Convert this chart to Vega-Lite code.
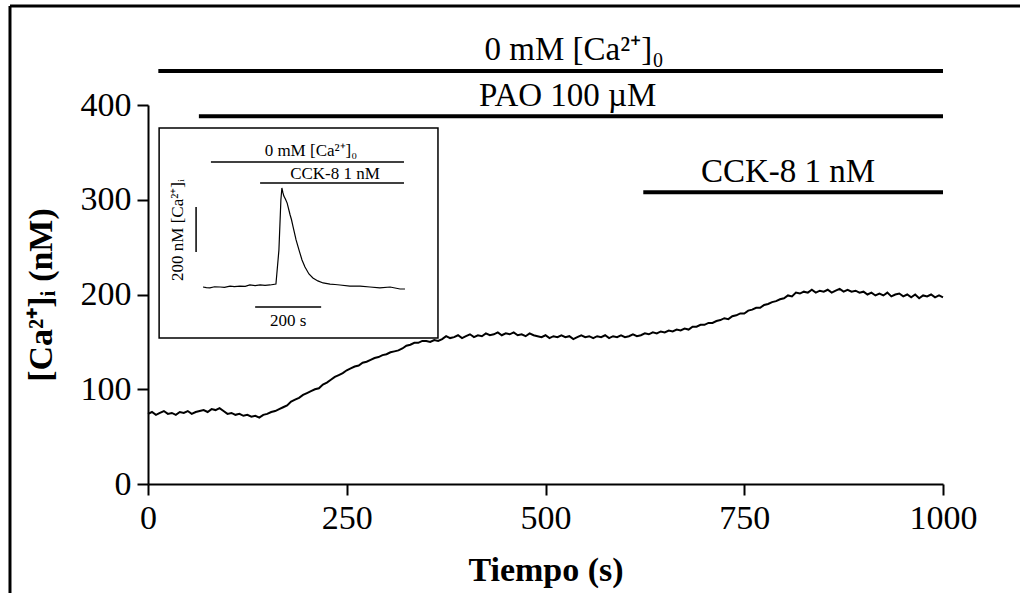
{
  "$schema": "https://vega.github.io/schema/vega-lite/v6.json",
  "width": 795,
  "height": 379,
  "autosize": {"type": "none"},
  "padding": {"left": 148, "top": 105, "right": 77, "bottom": 109},
  "background": "white",
  "config": {
    "view": {"stroke": null},
    "axis": {
      "labelFont": "Liberation Serif", "labelFontSize": 34, "labelColor": "black",
      "titleFont": "Liberation Serif", "titleFontSize": 34, "titleFontWeight": "bold", "titleColor": "black",
      "domainColor": "black", "domainWidth": 2, "tickColor": "black", "tickWidth": 2, "tickSize": 11,
      "grid": false, "labelPadding": 6, "labelFlush": false, "labelOverlap": false
    }
  },
  "datasets": {
    "one": [{}],
    "trace": [
      {"t":0,"ca":74},{"t":5,"ca":76},{"t":10,"ca":73},{"t":15,"ca":75},{"t":20,"ca":77},{"t":25,"ca":74},{"t":30,"ca":75},{"t":35,"ca":73},{"t":40,"ca":76},{"t":45,"ca":75},
      {"t":50,"ca":77},{"t":55,"ca":74},{"t":60,"ca":76},{"t":65,"ca":77},{"t":70,"ca":78},{"t":75,"ca":76},{"t":80,"ca":79},{"t":85,"ca":78},{"t":90,"ca":80},{"t":95,"ca":77},
      {"t":100,"ca":74},{"t":105,"ca":75},{"t":110,"ca":73},{"t":115,"ca":74},{"t":120,"ca":72},{"t":125,"ca":73},{"t":130,"ca":71},{"t":135,"ca":72},{"t":140,"ca":70},{"t":145,"ca":73},
      {"t":150,"ca":74},{"t":155,"ca":76},{"t":160,"ca":77},{"t":165,"ca":79},{"t":170,"ca":81},{"t":175,"ca":83},{"t":180,"ca":87},{"t":185,"ca":89},{"t":190,"ca":91},{"t":195,"ca":94},
      {"t":200,"ca":96},{"t":205,"ca":98},{"t":210,"ca":100},{"t":215,"ca":101},{"t":220,"ca":105},{"t":225,"ca":107},{"t":230,"ca":110},{"t":235,"ca":113},{"t":240,"ca":115},{"t":245,"ca":117},
      {"t":250,"ca":120},{"t":255,"ca":122},{"t":260,"ca":124},{"t":265,"ca":125},{"t":270,"ca":128},{"t":275,"ca":129},{"t":280,"ca":131},{"t":285,"ca":133},{"t":290,"ca":134},{"t":295,"ca":136},
      {"t":300,"ca":137},{"t":305,"ca":139},{"t":310,"ca":140},{"t":315,"ca":141},{"t":320,"ca":143},{"t":325,"ca":146},{"t":330,"ca":147},{"t":335,"ca":149},{"t":340,"ca":149},{"t":345,"ca":151},
      {"t":350,"ca":151},{"t":355,"ca":150},{"t":360,"ca":152},{"t":365,"ca":151},{"t":370,"ca":153},{"t":375,"ca":156},{"t":380,"ca":154},{"t":385,"ca":155},{"t":390,"ca":157},{"t":395,"ca":154},
      {"t":400,"ca":156},{"t":405,"ca":158},{"t":410,"ca":155},{"t":415,"ca":157},{"t":420,"ca":156},{"t":425,"ca":159},{"t":430,"ca":157},{"t":435,"ca":158},{"t":440,"ca":160},{"t":445,"ca":157},
      {"t":450,"ca":159},{"t":455,"ca":158},{"t":460,"ca":160},{"t":465,"ca":157},{"t":470,"ca":158},{"t":475,"ca":156},{"t":480,"ca":159},{"t":485,"ca":157},{"t":490,"ca":156},{"t":495,"ca":155},
      {"t":500,"ca":157},{"t":505,"ca":154},{"t":510,"ca":156},{"t":515,"ca":155},{"t":520,"ca":157},{"t":525,"ca":155},{"t":530,"ca":156},{"t":535,"ca":153},{"t":540,"ca":155},{"t":545,"ca":157},
      {"t":550,"ca":155},{"t":555,"ca":156},{"t":560,"ca":154},{"t":565,"ca":156},{"t":570,"ca":155},{"t":575,"ca":157},{"t":580,"ca":154},{"t":585,"ca":156},{"t":590,"ca":155},{"t":595,"ca":157},
      {"t":600,"ca":155},{"t":605,"ca":156},{"t":610,"ca":158},{"t":615,"ca":156},{"t":620,"ca":157},{"t":625,"ca":159},{"t":630,"ca":158},{"t":635,"ca":160},{"t":640,"ca":159},{"t":645,"ca":161},
      {"t":650,"ca":160},{"t":655,"ca":162},{"t":660,"ca":161},{"t":665,"ca":163},{"t":670,"ca":162},{"t":675,"ca":164},{"t":680,"ca":163},{"t":685,"ca":166},{"t":690,"ca":166},{"t":695,"ca":168},
      {"t":700,"ca":168},{"t":705,"ca":170},{"t":710,"ca":170},{"t":715,"ca":172},{"t":720,"ca":173},{"t":725,"ca":175},{"t":730,"ca":174},{"t":735,"ca":177},{"t":740,"ca":178},{"t":745,"ca":180},
      {"t":750,"ca":180},{"t":755,"ca":183},{"t":760,"ca":184},{"t":765,"ca":186},{"t":770,"ca":186},{"t":775,"ca":189},{"t":780,"ca":190},{"t":785,"ca":192},{"t":790,"ca":193},{"t":795,"ca":195},
      {"t":800,"ca":196},{"t":805,"ca":199},{"t":810,"ca":198},{"t":815,"ca":202},{"t":820,"ca":201},{"t":825,"ca":203},{"t":830,"ca":202},{"t":835,"ca":205},{"t":840,"ca":202},{"t":845,"ca":204},
      {"t":850,"ca":203},{"t":855,"ca":205},{"t":860,"ca":202},{"t":865,"ca":204},{"t":870,"ca":206},{"t":875,"ca":203},{"t":880,"ca":205},{"t":885,"ca":203},{"t":890,"ca":204},{"t":895,"ca":202},
      {"t":900,"ca":203},{"t":905,"ca":200},{"t":910,"ca":202},{"t":915,"ca":199},{"t":920,"ca":201},{"t":925,"ca":199},{"t":930,"ca":202},{"t":935,"ca":198},{"t":940,"ca":200},{"t":945,"ca":201},
      {"t":950,"ca":198},{"t":955,"ca":200},{"t":960,"ca":197},{"t":965,"ca":200},{"t":970,"ca":196},{"t":975,"ca":199},{"t":980,"ca":198},{"t":985,"ca":200},{"t":990,"ca":197},{"t":995,"ca":199},
      {"t":1000,"ca":197}
    ],
    "bars": [
      {"agent": "0 mM [Ca²⁺]₀", "start": 13, "end": 1000, "level": 436},
      {"agent": "PAO 100 µM", "start": 64, "end": 1000, "level": 388},
      {"agent": "CCK-8 1 nM", "start": 623, "end": 1000, "level": 308}
    ],
    "inset": [
      {"s":0,"nm":100},{"s":10,"nm":97},{"s":21,"nm":96},{"s":35,"nm":101},{"s":52,"nm":100},{"s":65,"nm":98},{"s":82,"nm":104},{"s":95,"nm":102},
      {"s":112,"nm":104},{"s":128,"nm":103},{"s":142,"nm":109},{"s":158,"nm":106},{"s":173,"nm":109},{"s":188,"nm":107},{"s":203,"nm":109},{"s":221,"nm":113},
      {"s":230,"nm":264},{"s":236,"nm":487},{"s":239,"nm":540},{"s":242,"nm":520},{"s":245,"nm":504},{"s":250,"nm":490},{"s":255,"nm":473},{"s":264,"nm":420},
      {"s":268,"nm":400},{"s":273,"nm":367},{"s":282,"nm":309},{"s":291,"nm":264},{"s":300,"nm":220},{"s":309,"nm":189},{"s":321,"nm":158},{"s":333,"nm":140},
      {"s":348,"nm":127},{"s":364,"nm":118},{"s":385,"nm":113},{"s":400,"nm":111},{"s":415,"nm":109},{"s":445,"nm":104},{"s":476,"nm":104},{"s":506,"nm":100},
      {"s":536,"nm":96},{"s":567,"nm":100},{"s":597,"nm":91},{"s":612,"nm":91}
    ],
    "insetBars": [
      {"agent": "0 mM [Ca²⁺]₀", "start": 24, "end": 609, "level": 656},
      {"agent": "CCK-8 1 nM", "start": 173, "end": 609, "level": 562}
    ]
  },
  "layer": [
    {
      "layer": [
        {
          "data": {"name": "trace"},
          "mark": {"type": "line", "color": "black", "strokeWidth": 2},
          "encoding": {
            "x": {"field": "t", "type": "quantitative", "scale": {"domain": [0, 1000], "nice": false, "zero": false},
                  "axis": {"title": "Tiempo (s)", "values": [0, 250, 500, 750, 1000], "format": "d", "titlePadding": 18}},
            "y": {"field": "ca", "type": "quantitative", "scale": {"domain": [0, 400], "nice": false, "zero": false},
                  "axis": {"title": "[Ca²⁺]ᵢ (nM)", "values": [0, 100, 200, 300, 400], "format": "d", "titlePadding": 22}}
          }
        },
        {
          "data": {"name": "bars"},
          "mark": {"type": "rule", "color": "black", "strokeWidth": 4},
          "encoding": {
            "x": {"field": "start", "type": "quantitative", "scale": {"domain": [0, 1000], "nice": false, "zero": false}},
            "x2": {"field": "end"},
            "y": {"field": "level", "type": "quantitative", "scale": {"domain": [0, 400], "nice": false, "zero": false}}
          }
        },
        {
          "data": {"name": "one"},
          "mark": {"type": "text", "text": "0 mM [Ca²⁺]₀", "font": "Liberation Serif", "fontSize": 33, "align": "center", "baseline": "alphabetic", "color": "black"},
          "encoding": {
            "x": {"datum": 536, "type": "quantitative", "scale": {"domain": [0, 1000], "nice": false, "zero": false}},
            "y": {"datum": 447, "type": "quantitative", "scale": {"domain": [0, 400], "nice": false, "zero": false}}
          }
        },
        {
          "data": {"name": "one"},
          "mark": {"type": "text", "text": "PAO 100 µM", "font": "Liberation Serif", "fontSize": 33, "align": "center", "baseline": "alphabetic", "color": "black"},
          "encoding": {
            "x": {"datum": 528, "type": "quantitative", "scale": {"domain": [0, 1000], "nice": false, "zero": false}},
            "y": {"datum": 399, "type": "quantitative", "scale": {"domain": [0, 400], "nice": false, "zero": false}}
          }
        },
        {
          "data": {"name": "one"},
          "mark": {"type": "text", "text": "CCK-8 1 nM", "font": "Liberation Serif", "fontSize": 33, "align": "center", "baseline": "alphabetic", "color": "black"},
          "encoding": {
            "x": {"datum": 805, "type": "quantitative", "scale": {"domain": [0, 1000], "nice": false, "zero": false}},
            "y": {"datum": 319, "type": "quantitative", "scale": {"domain": [0, 400], "nice": false, "zero": false}}
          }
        },
        {
          "data": {"name": "one"},
          "mark": {"type": "rule", "color": "black", "strokeWidth": 3},
          "encoding": {
            "x": {"datum": -173.6, "type": "quantitative", "scale": {"domain": [0, 1000], "nice": false, "zero": false}},
            "x2": {"datum": 1100},
            "y": {"datum": 504.5, "type": "quantitative", "scale": {"domain": [0, 400], "nice": false, "zero": false}}
          }
        },
        {
          "data": {"name": "one"},
          "mark": {"type": "rule", "color": "black", "strokeWidth": 3},
          "encoding": {
            "x": {"datum": -173.6, "type": "quantitative", "scale": {"domain": [0, 1000], "nice": false, "zero": false}},
            "y": {"datum": 504.5, "type": "quantitative", "scale": {"domain": [0, 400], "nice": false, "zero": false}},
            "y2": {"datum": -120}
          }
        }
      ]
    },
    {
      "layer": [
        {
          "data": {"name": "one"},
          "mark": {"type": "rect", "fill": "white", "stroke": "black", "strokeWidth": 1.5},
          "encoding": {
            "x": {"datum": -133, "type": "quantitative", "scale": {"domain": [-166.7, 2242.4], "nice": false, "zero": false}, "axis": null},
            "x2": {"datum": 712},
            "y": {"datum": 806.7, "type": "quantitative", "scale": {"domain": [-775.6, 908.9], "nice": false, "zero": false}, "axis": null},
            "y2": {"datum": -126.7}
          }
        },
        {
          "data": {"name": "inset"},
          "mark": {"type": "line", "color": "black", "strokeWidth": 1.2},
          "encoding": {
            "x": {"field": "s", "type": "quantitative", "scale": {"domain": [-166.7, 2242.4], "nice": false, "zero": false}, "axis": null},
            "y": {"field": "nm", "type": "quantitative", "scale": {"domain": [-775.6, 908.9], "nice": false, "zero": false}, "axis": null}
          }
        },
        {
          "data": {"name": "insetBars"},
          "mark": {"type": "rule", "color": "black", "strokeWidth": 1.5},
          "encoding": {
            "x": {"field": "start", "type": "quantitative", "scale": {"domain": [-166.7, 2242.4], "nice": false, "zero": false}, "axis": null},
            "x2": {"field": "end"},
            "y": {"field": "level", "type": "quantitative", "scale": {"domain": [-775.6, 908.9], "nice": false, "zero": false}, "axis": null}
          }
        },
        {
          "data": {"name": "one"},
          "mark": {"type": "rule", "color": "black", "strokeWidth": 1.5},
          "encoding": {
            "x": {"datum": 158, "type": "quantitative", "scale": {"domain": [-166.7, 2242.4], "nice": false, "zero": false}, "axis": null},
            "x2": {"datum": 358},
            "y": {"datum": 11, "type": "quantitative", "scale": {"domain": [-775.6, 908.9], "nice": false, "zero": false}, "axis": null}
          }
        },
        {
          "data": {"name": "one"},
          "mark": {"type": "rule", "color": "black", "strokeWidth": 1.5},
          "encoding": {
            "x": {"datum": -21, "type": "quantitative", "scale": {"domain": [-166.7, 2242.4], "nice": false, "zero": false}, "axis": null},
            "y": {"datum": 255, "type": "quantitative", "scale": {"domain": [-775.6, 908.9], "nice": false, "zero": false}, "axis": null},
            "y2": {"datum": 455}
          }
        },
        {
          "data": {"name": "one"},
          "mark": {"type": "text", "text": "0 mM [Ca²⁺]₀", "font": "Liberation Serif", "fontSize": 17, "align": "center", "baseline": "alphabetic", "color": "black"},
          "encoding": {
            "x": {"datum": 327, "type": "quantitative", "scale": {"domain": [-166.7, 2242.4], "nice": false, "zero": false}, "axis": null},
            "y": {"datum": 682, "type": "quantitative", "scale": {"domain": [-775.6, 908.9], "nice": false, "zero": false}, "axis": null}
          }
        },
        {
          "data": {"name": "one"},
          "mark": {"type": "text", "text": "CCK-8 1 nM", "font": "Liberation Serif", "fontSize": 17, "align": "center", "baseline": "alphabetic", "color": "black"},
          "encoding": {
            "x": {"datum": 400, "type": "quantitative", "scale": {"domain": [-166.7, 2242.4], "nice": false, "zero": false}, "axis": null},
            "y": {"datum": 580, "type": "quantitative", "scale": {"domain": [-775.6, 908.9], "nice": false, "zero": false}, "axis": null}
          }
        },
        {
          "data": {"name": "one"},
          "mark": {"type": "text", "text": "200 s", "font": "Liberation Serif", "fontSize": 17, "align": "center", "baseline": "middle", "color": "black"},
          "encoding": {
            "x": {"datum": 258, "type": "quantitative", "scale": {"domain": [-166.7, 2242.4], "nice": false, "zero": false}, "axis": null},
            "y": {"datum": -51, "type": "quantitative", "scale": {"domain": [-775.6, 908.9], "nice": false, "zero": false}, "axis": null}
          }
        },
        {
          "data": {"name": "one"},
          "mark": {"type": "text", "text": "200 nM [Ca²⁺]ᵢ", "font": "Liberation Serif", "fontSize": 17, "align": "center", "baseline": "middle", "angle": 270, "color": "black"},
          "encoding": {
            "x": {"datum": -76, "type": "quantitative", "scale": {"domain": [-166.7, 2242.4], "nice": false, "zero": false}, "axis": null},
            "y": {"datum": 353, "type": "quantitative", "scale": {"domain": [-775.6, 908.9], "nice": false, "zero": false}, "axis": null}
          }
        }
      ]
    }
  ],
  "resolve": {"scale": {"x": "independent", "y": "independent"}}
}
